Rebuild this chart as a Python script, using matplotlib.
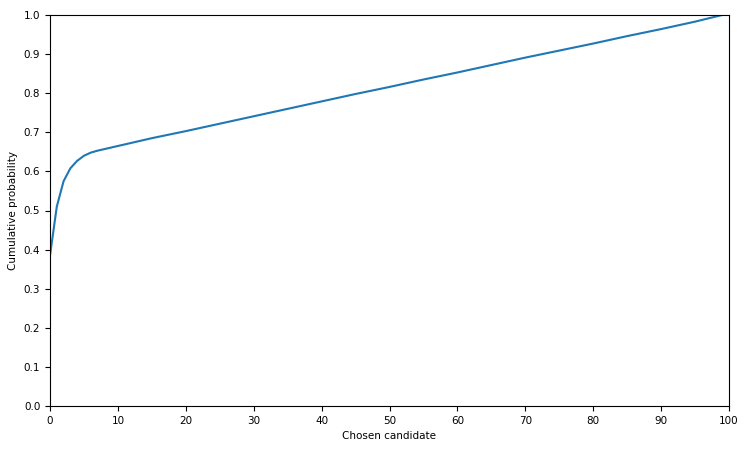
import matplotlib
matplotlib.use("Agg")
import matplotlib.pyplot as plt

candidates = [0, 1, 2, 3, 4, 5, 6, 7, 8, 9, 10, 15, 20, 25, 30, 35, 40, 45,
              50, 55, 60, 65, 70, 75, 80, 85, 90, 95, 99]
cum_prob = [0.385, 0.510, 0.575, 0.608, 0.627, 0.640, 0.648, 0.653, 0.657,
            0.661, 0.665, 0.685, 0.703, 0.722, 0.741, 0.760, 0.779, 0.798,
            0.816, 0.835, 0.853, 0.872, 0.891, 0.909, 0.927, 0.946, 0.964,
            0.983, 1.000]

fig = plt.figure(figsize=(7.5, 4.5), dpi=100)
ax = fig.add_axes([50/750, 1-406/450, (729-50)/750, (406-15)/450])
ax.plot(candidates, cum_prob, color="#1f77b4", linewidth=1.5)
ax.set_xlim(0, 100)
ax.set_ylim(0, 1)
ax.set_xticks(range(0, 101, 10))
ax.set_yticks([i/10 for i in range(11)])
ax.set_xlabel("Chosen candidate", fontsize=7.5)
ax.set_ylabel("Cumulative probability", fontsize=7.5)
ax.tick_params(labelsize=7.5)
fig.savefig("out.png", dpi=100)
